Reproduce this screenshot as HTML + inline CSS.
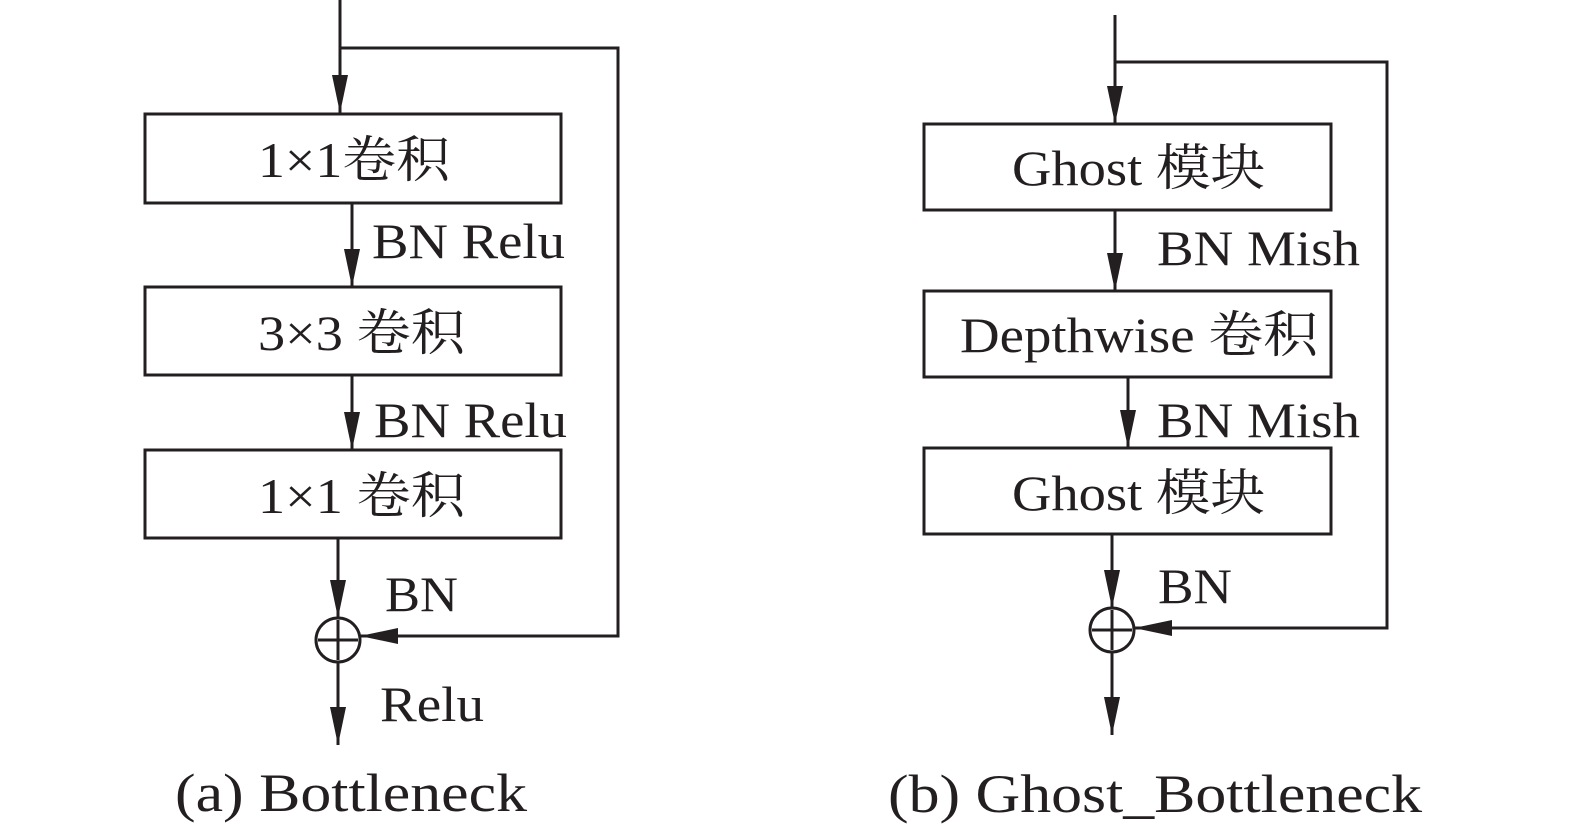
<!DOCTYPE html>
<html><head><meta charset="utf-8"><style>
html,body{margin:0;padding:0;background:#fff;}
svg{display:block;}
text{font-family:"Liberation Serif","Noto Serif CJK SC",serif;fill:#231f20;}
</style></head><body>
<svg width="1575" height="835" viewBox="0 0 1575 835" xmlns="http://www.w3.org/2000/svg">
<defs>
<marker id="ah" markerWidth="38" markerHeight="18" refX="0" refY="0" orient="auto" markerUnits="userSpaceOnUse" viewBox="-38 -9 38 18">
<path d="M-38,-8 L0,0 L-38,8 Z" fill="#231f20"/>
</marker>
</defs>
<g stroke="#231f20" stroke-width="3" fill="none">
<line x1="340" y1="0" x2="340" y2="113" marker-end="url(#ah)"/>
<polyline points="340,48 618,48 618,636 360,636" marker-end="url(#ah)"/>
<rect x="145" y="114" width="416" height="89"/>
<line x1="352" y1="203" x2="352" y2="287" marker-end="url(#ah)"/>
<rect x="145" y="287" width="416" height="88"/>
<line x1="352" y1="375" x2="352" y2="450" marker-end="url(#ah)"/>
<rect x="145" y="450" width="416" height="88"/>
<line x1="338" y1="538" x2="338" y2="618" marker-end="url(#ah)"/>
<circle cx="338" cy="640" r="22"/>
<line x1="338" y1="620" x2="338" y2="660"/>
<line x1="318" y1="640" x2="358" y2="640"/>
<line x1="338" y1="662" x2="338" y2="745" marker-end="url(#ah)"/>
<line x1="1115" y1="15" x2="1115" y2="124" marker-end="url(#ah)"/>
<polyline points="1115,62 1387,62 1387,628 1134,628" marker-end="url(#ah)"/>
<rect x="924" y="124" width="407" height="86"/>
<line x1="1115" y1="210" x2="1115" y2="291" marker-end="url(#ah)"/>
<rect x="924" y="291" width="407" height="86"/>
<line x1="1128" y1="377" x2="1128" y2="448" marker-end="url(#ah)"/>
<rect x="924" y="448" width="407" height="86"/>
<line x1="1112" y1="534" x2="1112" y2="608" marker-end="url(#ah)"/>
<circle cx="1112" cy="630" r="22"/>
<line x1="1112" y1="610" x2="1112" y2="650"/>
<line x1="1092" y1="630" x2="1132" y2="630"/>
<line x1="1112" y1="652" x2="1112" y2="735" marker-end="url(#ah)"/>
</g>
<g font-size="50">
<text x="258" y="177" textLength="192" lengthAdjust="spacingAndGlyphs">1×1卷积</text>
<text x="258" y="350" textLength="207" lengthAdjust="spacingAndGlyphs">3×3 卷积</text>
<text x="258" y="513" textLength="207" lengthAdjust="spacingAndGlyphs">1×1 卷积</text>
<text x="372" y="258" textLength="193" lengthAdjust="spacingAndGlyphs">BN Relu</text>
<text x="374" y="437" textLength="193" lengthAdjust="spacingAndGlyphs">BN Relu</text>
<text x="385" y="611" textLength="73" lengthAdjust="spacingAndGlyphs">BN</text>
<text x="380" y="721" textLength="104" lengthAdjust="spacingAndGlyphs">Relu</text>
<text x="1012" y="185" textLength="253" lengthAdjust="spacingAndGlyphs">Ghost 模块</text>
<text x="960" y="352" textLength="358" lengthAdjust="spacingAndGlyphs">Depthwise 卷积</text>
<text x="1012" y="510" textLength="253" lengthAdjust="spacingAndGlyphs">Ghost 模块</text>
<text x="1157" y="265" textLength="203" lengthAdjust="spacingAndGlyphs">BN Mish</text>
<text x="1157" y="437" textLength="203" lengthAdjust="spacingAndGlyphs">BN Mish</text>
<text x="1158" y="603" textLength="74" lengthAdjust="spacingAndGlyphs">BN</text>
</g>
<g font-size="54">
<text x="175" y="811" textLength="352" lengthAdjust="spacingAndGlyphs">(a) Bottleneck</text>
<text x="888" y="812" textLength="534" lengthAdjust="spacingAndGlyphs">(b) Ghost_Bottleneck</text>
</g>
</svg>
</body></html>
